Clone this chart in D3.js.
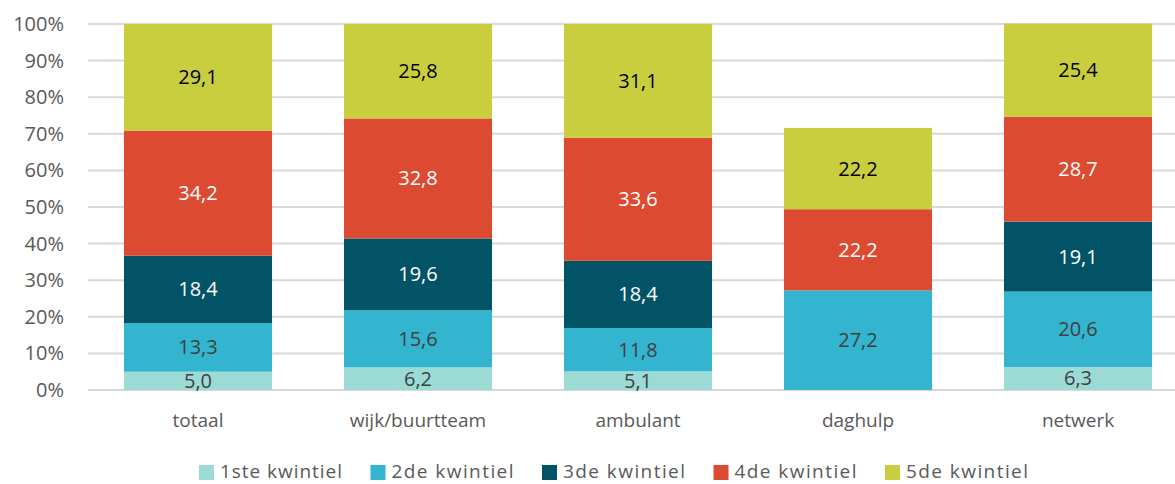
<!DOCTYPE html>
<html>
<head>
<meta charset="utf-8">
<script src="https://cdn.jsdelivr.net/npm/d3@7"></script>
<style>
  body { margin: 0; background: #fff; }
  svg text { font-family: "Open Sans", "Noto Sans", sans-serif; }
</style>
</head>
<body>
<svg id="chart" width="1175" height="484"></svg>
<script>
// categories on the x axis
const categories = ["totaal", "wijk/buurtteam", "ambulant", "daghulp", "netwerk"];
// series names (legend)
const seriesNames = ["1ste kwintiel", "2de kwintiel", "3de kwintiel", "4de kwintiel", "5de kwintiel"];
// values per series, one per category
const kw1 = [5.0, 6.2, 5.1, 0, 6.3];
const kw2 = [13.3, 15.6, 11.8, 27.2, 20.6];
const kw3 = [18.4, 19.6, 18.4, 0, 19.1];
const kw4 = [34.2, 32.8, 33.6, 22.2, 28.7];
const kw5 = [29.1, 25.8, 31.1, 22.2, 25.4];
const yTicks = [0, 10, 20, 30, 40, 50, 60, 70, 80, 90, 100];

const colors = ["#9cdad6", "#33b4cf", "#035366", "#dc4b31", "#c9ce3e"];
const labelColors = ["#404040", "#404040", "#ffffff", "#ffffff", "#000000"];

const svg = d3.select("#chart");
const margin = {left: 88, top: 24, right: 0, bottom: 94};
const plotW = 1100, plotH = 366;

// build rows for the stack
const allSeries = [kw1, kw2, kw3, kw4, kw5];
const rows = categories.map((c, i) => {
  let r = {cat: c};
  seriesNames.forEach((s, j) => { r[s] = allSeries[j][i]; });
  return r;
});
const stacked = d3.stack().keys(seriesNames)(rows);

const x = d3.scaleBand().domain(categories).range([0, plotW]).paddingInner(0.327).paddingOuter(0.1635);
const y = d3.scaleLinear().domain([0, 100]).range([plotH, 0]);

const g = svg.append("g").attr("transform", "translate(" + margin.left + "," + margin.top + ")");

// gridlines
g.selectAll("line.grid")
  .data(yTicks)
  .enter()
  .append("line")
  .attr("class", "grid")
  .attr("x1", 0).attr("x2", plotW)
  .attr("y1", d => y(d)).attr("y2", d => y(d))
  .attr("stroke", "#d9d9d9")
  .attr("stroke-width", 2);

// y axis labels
const yAxis = d3.axisLeft(y).tickValues(yTicks).tickFormat(d => d + "%").tickSize(0).tickPadding(24);
const ya = g.append("g").call(yAxis);
ya.select(".domain").remove();
ya.selectAll("text").attr("fill", "#595959").attr("font-size", "20px");

// bars
const layers = g.selectAll("g.layer")
  .data(stacked)
  .enter()
  .append("g")
  .attr("class", "layer")
  .attr("fill", (d, i) => colors[i]);

layers.selectAll("rect")
  .data(d => d)
  .enter()
  .append("rect")
  .attr("x", d => x(d.data.cat))
  .attr("width", x.bandwidth())
  .attr("y", d => y(d[1]))
  .attr("height", d => y(d[0]) - y(d[1]));

// value labels
stacked.forEach((layer, i) => {
  g.selectAll("text.val" + i)
    .data(layer.filter(d => d[1] - d[0] > 0))
    .enter()
    .append("text")
    .attr("class", "val" + i)
    .attr("x", d => x(d.data.cat) + x.bandwidth() / 2)
    .attr("y", d => (y(d[0]) + y(d[1])) / 2)
    .attr("dy", "0.35em")
    .attr("text-anchor", "middle")
    .attr("font-size", "20px")
    .attr("fill", labelColors[i])
    .text(d => d3.format(".1f")(d[1] - d[0]).replace(".", ","));
});

// x axis labels
const xAxis = d3.axisBottom(x).tickSize(0).tickPadding(24);
const xa = g.append("g").attr("transform", "translate(0," + plotH + ")").call(xAxis);
xa.select(".domain").remove();
xa.selectAll("text").attr("fill", "#595959").attr("font-size", "19px");

// legend
const legend = svg.append("g").attr("transform", "translate(199,465)");
seriesNames.forEach((s, i) => {
  const item = legend.append("g").attr("transform", "translate(" + (i * 171.5) + ",0)");
  item.append("rect").attr("width", 15).attr("height", 15).attr("fill", colors[i]);
  item.append("text")
    .attr("x", 21).attr("y", 6.5).attr("dy", "0.35em")
    .attr("font-size", "19px").attr("fill", "#595959")
    .attr("textLength", 122).attr("lengthAdjust", "spacing")
    .text(s);
});
</script>
</body>
</html>
